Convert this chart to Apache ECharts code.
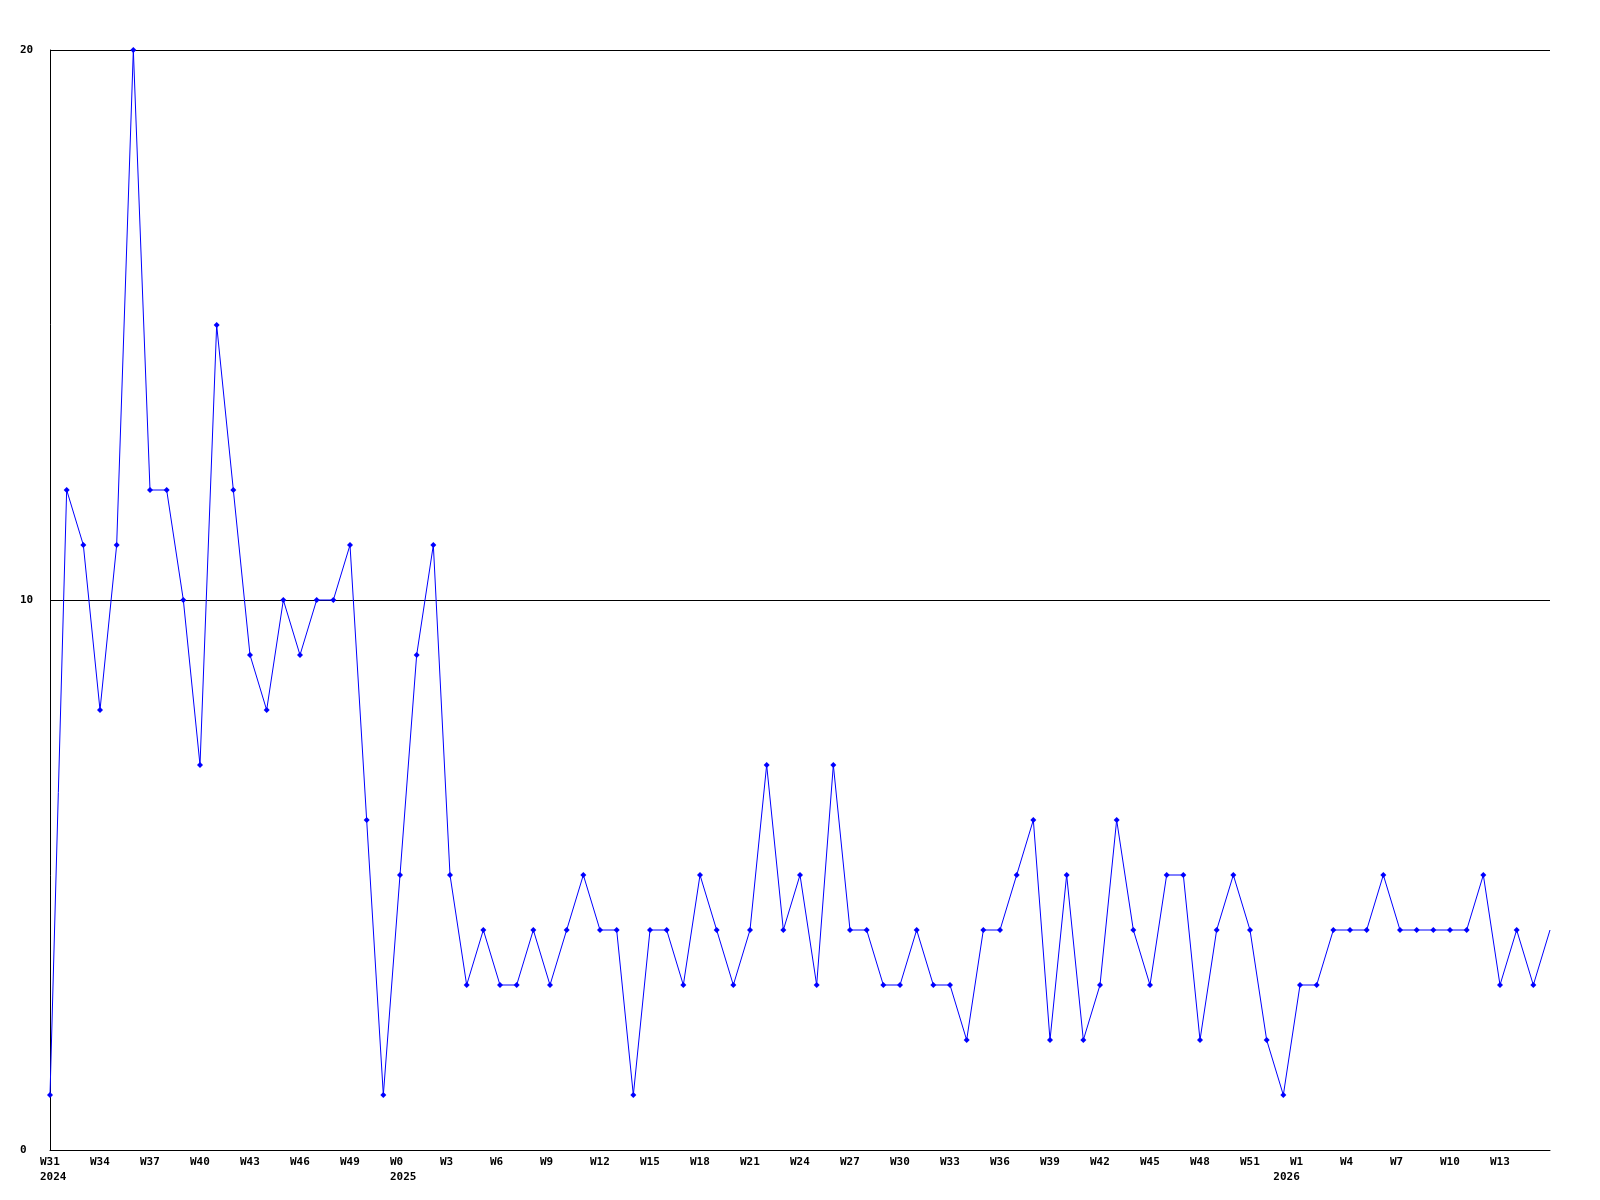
<!DOCTYPE html>
<html>
<head>
<meta charset="utf-8">
<style>
html,body{margin:0;padding:0;background:#fff;}
#chart{width:1600px;height:1200px;}
</style>
<script src="https://cdn.jsdelivr.net/npm/echarts@6/dist/echarts.min.js"></script>
</head>
<body>
<div id="chart"></div>
<script>
// Weekly categories (ISO weeks, 2024 W31 .. 2026 W17)
const categories = [
  '2024-W31','2024-W32','2024-W33','2024-W34','2024-W35','2024-W36','2024-W37','2024-W38','2024-W39','2024-W40',
  '2024-W41','2024-W42','2024-W43','2024-W44','2024-W45','2024-W46','2024-W47','2024-W48','2024-W49','2024-W50',
  '2024-W51','2024-W52',
  '2025-W01','2025-W02','2025-W03','2025-W04','2025-W05','2025-W06','2025-W07','2025-W08','2025-W09','2025-W10',
  '2025-W11','2025-W12','2025-W13','2025-W14','2025-W15','2025-W16','2025-W17','2025-W18','2025-W19','2025-W20',
  '2025-W21','2025-W22','2025-W23','2025-W24','2025-W25','2025-W26','2025-W27','2025-W28','2025-W29','2025-W30',
  '2025-W31','2025-W32','2025-W33','2025-W34','2025-W35','2025-W36','2025-W37','2025-W38','2025-W39','2025-W40',
  '2025-W41','2025-W42','2025-W43','2025-W44','2025-W45','2025-W46','2025-W47','2025-W48','2025-W49','2025-W50',
  '2025-W51','2025-W52',
  '2026-W01','2026-W02','2026-W03','2026-W04','2026-W05','2026-W06','2026-W07','2026-W08','2026-W09','2026-W10',
  '2026-W11','2026-W12','2026-W13','2026-W14','2026-W15','2026-W16','2026-W17'
];

// Weekly counts
const values = [
  1, 12, 11, 8, 11, 20, 12, 12, 10, 7,
  15, 12, 9, 8, 10, 9, 10, 10, 11, 6,
  1, 5, 9, 11, 5, 3, 4, 3, 3, 4,
  3, 4, 5, 4, 4, 1, 4, 4, 3, 5,
  4, 3, 4, 7, 4, 5, 3, 7, 4, 4,
  3, 3, 4, 3, 3, 2, 4, 4, 5, 6,
  2, 5, 2, 3, 6, 4, 3, 5, 5, 2,
  4, 5, 4, 2, 1, 3, 3, 4, 4, 4,
  5, 4, 4, 4, 4, 4, 5, 3, 4, 3,
  4
];

// Tick labels on the x axis (category index -> label)
const weekTickIndex = [0,3,6,9,12,15,18,21,24,27,30,33,36,39,42,45,48,51,54,57,60,63,66,69,72,75,78,81,84,87];
const weekTickLabels = ['W31','W34','W37','W40','W43','W46','W49','W0','W3','W6','W9','W12','W15','W18','W21',
  'W24','W27','W30','W33','W36','W39','W42','W45','W48','W51','W1','W4','W7','W10','W13'];
const yearTickIndex = [0, 21, 74];
const yearTickLabels = ['2024', '2025', '2026'];

const yTicks = [0, 10, 20];

const labelText = {};
weekTickIndex.forEach((idx, k) => { labelText[idx] = weekTickLabels[k]; });
yearTickIndex.forEach((idx, k) => {
  labelText[idx] = (labelText[idx] || '') + '\n' + yearTickLabels[k];
});

const lastIdx = values.length - 1;
const seriesData = values.map((v, i) => i === lastIdx ? { value: v, symbol: 'none' } : v);

const FONT = '"DejaVu Sans Mono", "Liberation Mono", monospace';

const chart = echarts.init(document.getElementById('chart'), null, { renderer: 'canvas' });
chart.setOption({
  animation: false,
  backgroundColor: '#ffffff',
  grid: { left: 50, right: 50, top: 50, bottom: 50, containLabel: false },
  xAxis: {
    type: 'category',
    data: categories,
    boundaryGap: false,
    axisLine: { show: true, lineStyle: { color: '#000', width: 1 } },
    axisTick: { show: false },
    splitLine: { show: false },
    axisLabel: {
      interval: 0,
      formatter: (val, idx) => labelText[idx] !== undefined ? labelText[idx] : '',
      align: 'left',
      padding: [0, 0, 0, -10],
      margin: 5,
      color: '#000',
      fontFamily: FONT,
      fontWeight: 'bold',
      fontSize: 11,
      lineHeight: 15,
      verticalAlign: 'top'
    }
  },
  yAxis: {
    type: 'value',
    min: yTicks[0],
    max: yTicks[yTicks.length - 1],
    interval: 10,
    axisLine: { show: true, lineStyle: { color: '#000', width: 1 } },
    axisTick: { show: false },
    splitLine: { show: true, lineStyle: { color: '#000', width: 1, type: 'solid' } },
    axisLabel: {
      align: 'left',
      margin: 30,
      color: '#000',
      fontFamily: FONT,
      fontWeight: 'bold',
      fontSize: 11
    }
  },
  series: [{
    type: 'line',
    data: seriesData,
    clip: false,
    symbol: 'diamond',
    symbolSize: 6,
    showAllSymbol: true,
    lineStyle: { color: '#0000ff', width: 1 },
    itemStyle: { color: '#0000ff' },
    emphasis: { disabled: true }
  }]
});
</script>
</body>
</html>
